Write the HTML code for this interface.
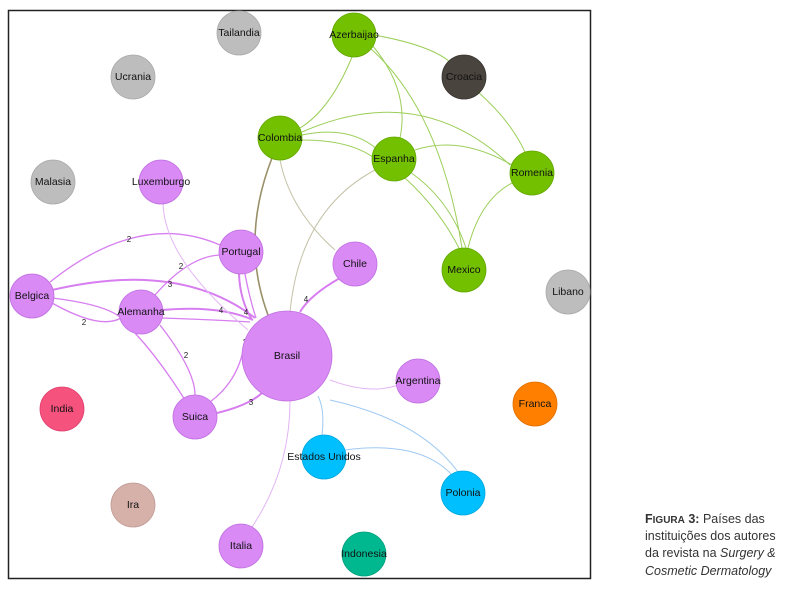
<!DOCTYPE html>
<html><head><meta charset="utf-8"><style>
body{margin:0;background:#fff;width:806px;height:592px;overflow:hidden;font-family:"Liberation Sans",sans-serif}
svg text{font-family:"Liberation Sans",sans-serif}
</style></head><body>
<svg width="806" height="592" viewBox="0 0 806 592">
<rect x="8.5" y="10.5" width="582" height="568" fill="#fff" stroke="#222" stroke-width="1.5"/>
<g fill="none" stroke-width="1">
<!-- green edges -->
<g stroke="#9ccf5a">
<path d="M374,35 Q430,45 450,62"/>
<path d="M372,45 Q410,90 400,138"/>
<path d="M370,48 Q440,110 462,248"/>
<path d="M352,57 Q330,110 300,128"/>
<path d="M478,92 Q510,120 525,152"/>
<path d="M302,132 Q420,80 510,165"/>
<path d="M302,135 Q350,125 378,150"/>
<path d="M302,140 Q350,140 374,158"/>
<path d="M415,150 Q460,135 512,165"/>
<path d="M410,172 Q450,200 466,248"/>
<path d="M405,178 Q440,210 460,250"/>
<path d="M468,248 Q480,200 512,183"/>
</g>
<g stroke="#c5c3a8">
<path d="M280,160 Q290,210 335,250"/>
<path d="M375,170 Q300,210 290,312"/>
</g>
<path d="M272,158 Q240,240 268,315" stroke="#99906a" stroke-width="1.6"/>
<!-- purple edges -->
<g stroke="#d77ef0" stroke-width="1.3">
<path d="M50,282 Q140,210 220,245"/>
<path d="M52,290 Q180,260 255,318" stroke-width="2"/>
<path d="M52,298 Q110,305 123,320"/>
<path d="M52,303 Q100,330 121,318"/>
<path d="M155,295 Q190,255 222,255"/>
<path d="M162,310 Q220,305 253,320" stroke-width="2"/>
<path d="M162,318 Q220,320 250,322"/>
<path d="M239,274 Q240,300 252,320" stroke-width="2"/>
<path d="M245,274 Q250,300 256,318"/>
<path d="M160,325 Q195,370 195,395"/>
<path d="M135,333 Q160,360 185,400"/>
<path d="M210,402 Q240,380 245,340"/>
<path d="M217,413 Q250,405 263,392" stroke-width="2"/>
<path d="M340,278 Q310,295 300,312" stroke-width="2"/>
</g>
<g stroke="#e3b5f5">
<path d="M163,204 Q165,260 248,330"/>
<path d="M330,380 Q370,395 398,385"/>
<path d="M290,401 Q290,470 252,527"/>
</g>
<g stroke="#9fc9f2">
<path d="M318,396 Q325,410 322,435"/>
<path d="M330,400 Q420,420 458,472"/>
<path d="M345,450 Q420,440 452,475"/>
</g>
</g>
<g font-size="8" fill="#222" text-anchor="middle">
<text x="129" y="242">2</text><text x="181" y="269">2</text><text x="170" y="287">3</text>
<text x="247" y="251">3</text><text x="84" y="325">2</text><text x="134" y="332">2</text>
<text x="221" y="313">4</text><text x="246" y="315">4</text><text x="186" y="358">2</text>
<text x="245" y="345">2</text><text x="251" y="405">3</text><text x="306" y="302">4</text>
</g>
<g stroke-width="0.8">
<circle cx="239" cy="33" r="22" fill="#bdbdbd" stroke="#aaa"/>
<circle cx="354" cy="35" r="22" fill="#72c000" stroke="#64a800"/>
<circle cx="133" cy="77" r="22" fill="#bdbdbd" stroke="#aaa"/>
<circle cx="464" cy="77" r="22" fill="#4a443e" stroke="#3a3530"/>
<circle cx="280" cy="138" r="22" fill="#72c000" stroke="#64a800"/>
<circle cx="394" cy="159" r="22" fill="#72c000" stroke="#64a800"/>
<circle cx="532" cy="173" r="22" fill="#72c000" stroke="#64a800"/>
<circle cx="53" cy="182" r="22" fill="#bdbdbd" stroke="#aaa"/>
<circle cx="161" cy="182" r="22" fill="#d98af5" stroke="#c070e0"/>
<circle cx="241" cy="252" r="22" fill="#d98af5" stroke="#c070e0"/>
<circle cx="355" cy="264" r="22" fill="#d98af5" stroke="#c070e0"/>
<circle cx="464" cy="270" r="22" fill="#72c000" stroke="#64a800"/>
<circle cx="568" cy="292" r="22" fill="#bdbdbd" stroke="#aaa"/>
<circle cx="32" cy="296" r="22" fill="#d98af5" stroke="#c070e0"/>
<circle cx="141" cy="312" r="22" fill="#d98af5" stroke="#c070e0"/>
<circle cx="287" cy="356" r="45" fill="#d98af5" stroke="#c070e0"/>
<circle cx="418" cy="381" r="22" fill="#d98af5" stroke="#c070e0"/>
<circle cx="535" cy="404" r="22" fill="#ff8000" stroke="#e07000"/>
<circle cx="62" cy="409" r="22" fill="#f5527e" stroke="#e04070"/>
<circle cx="195" cy="417" r="22" fill="#d98af5" stroke="#c070e0"/>
<circle cx="324" cy="457" r="22" fill="#00bfff" stroke="#00a8e0"/>
<circle cx="463" cy="493" r="22" fill="#00bfff" stroke="#00a8e0"/>
<circle cx="133" cy="505" r="22" fill="#d5b1aa" stroke="#c09a94"/>
<circle cx="241" cy="546" r="22" fill="#d98af5" stroke="#c070e0"/>
<circle cx="364" cy="554" r="22" fill="#00b890" stroke="#00a07a"/>
</g>
<g font-size="10.5" fill="#111" text-anchor="middle" dominant-baseline="central">
<text x="239" y="33">Tailandia</text><text x="354" y="35">Azerbaijao</text>
<text x="133" y="77">Ucrania</text><text x="464" y="77">Croacia</text>
<text x="280" y="138">Colombia</text><text x="394" y="159">Espanha</text>
<text x="532" y="173">Romenia</text><text x="53" y="182">Malasia</text>
<text x="161" y="182">Luxemburgo</text><text x="241" y="252">Portugal</text>
<text x="355" y="264">Chile</text><text x="464" y="270">Mexico</text>
<text x="568" y="292">Libano</text><text x="32" y="296">Belgica</text>
<text x="141" y="312">Alemanha</text><text x="287" y="356">Brasil</text>
<text x="418" y="381">Argentina</text><text x="535" y="404">Franca</text>
<text x="62" y="409">India</text><text x="195" y="417">Suica</text>
<text x="324" y="457">Estados Unidos</text><text x="463" y="493">Polonia</text>
<text x="133" y="505">Ira</text><text x="241" y="546">Italia</text>
<text x="364" y="554">Indonesia</text>
</g>
<g font-size="12.5" fill="#333">
<text x="645" y="523"><tspan font-weight="bold">F</tspan><tspan font-weight="bold" font-size="10">IGURA</tspan><tspan font-weight="bold"> 3:</tspan> Países das</text>
<text x="645" y="540">instituições dos autores</text>
<text x="645" y="557">da revista na <tspan font-style="italic">Surgery &amp;</tspan></text>
<text x="645" y="575" font-style="italic">Cosmetic Dermatology</text>
</g>
</svg>
</body></html>
